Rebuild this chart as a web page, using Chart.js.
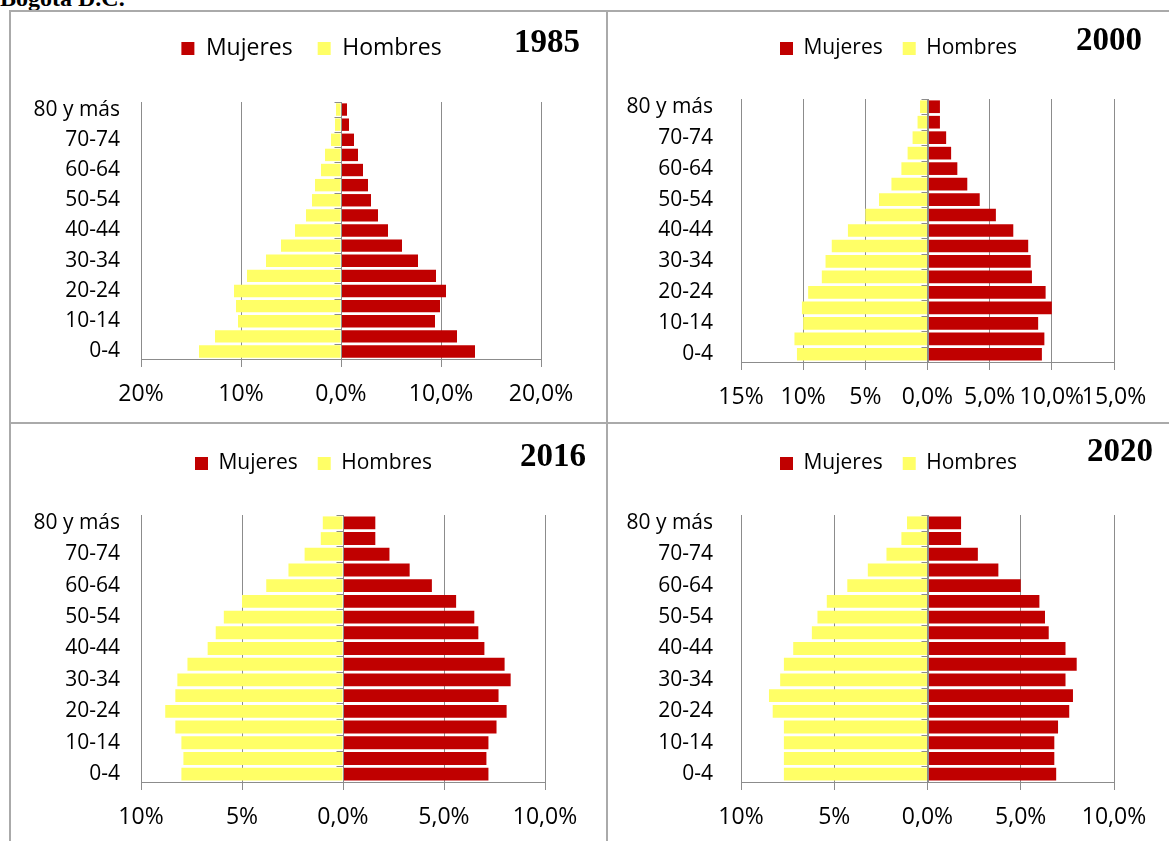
<!DOCTYPE html>
<html lang="es">
<head>
<meta charset="UTF-8">
<title>Pirámides poblacionales Bogotá D.C.</title>
<script src="https://cdn.jsdelivr.net/npm/chart.js@4.4.0/dist/chart.umd.min.js"></script>
<style>
    body {
        margin: 0;
        width: 1169px;
        height: 841px;
        position: relative;
        overflow: hidden;
        background: #fff;
        font-family: "Open Sans", sans-serif;
    }
    #title {
        position: absolute;
        left: 0;
        top: -14px;
        font: bold 24px/24px "Liberation Serif", serif;
        color: #000;
        white-space: nowrap;
    }
    .line { position: absolute; background: #aaaaaa; }
    .panel { position: absolute; }
    .year {
        position: absolute;
        font: bold 33px/33px "Liberation Serif", serif;
        color: #000;
        text-align: right;
    }
</style>
</head>
<body>
<div id="title">Bogotá D.C.</div>

<div class="line" style="left:9px; top:10px; width:1160px; height:2px;"></div>
<div class="line" style="left:9px; top:10px; width:2px; height:831px;"></div>
<div class="line" style="left:9px; top:422px; width:1160px; height:2px;"></div>
<div class="line" style="left:606px; top:10px; width:2px; height:831px;"></div>

<div class="panel" style="left:11px; top:12px; width:595px; height:410px;"><canvas id="c1985"></canvas></div>
<div class="panel" style="left:608px; top:12px; width:561px; height:410px;"><canvas id="c2000"></canvas></div>
<div class="panel" style="left:11px; top:424px; width:595px; height:417px;"><canvas id="c2016"></canvas></div>
<div class="panel" style="left:608px; top:424px; width:561px; height:417px;"><canvas id="c2020"></canvas></div>

<div class="year" style="right:589px; top:25px;">1985</div>
<div class="year" style="right:27px; top:23px;">2000</div>
<div class="year" style="right:583px; top:439px;">2016</div>
<div class="year" style="right:16px; top:434px;">2020</div>

<script>
    // age groups, bottom to top
    const ageGroups = ['0-4', '5-9', '10-14', '15-19', '20-24', '25-29', '30-34', '35-39',
        '40-44', '45-49', '50-54', '55-59', '60-64', '65-69', '70-74', '75-79', '80 y más'];
    const seriesNames = ['Mujeres', 'Hombres'];

    // % of population per group
    const mujeres1985 = [13.4, 11.6, 9.4, 9.9, 10.5, 9.5, 7.7, 6.1, 4.7, 3.7, 3.0, 2.7, 2.2, 1.7, 1.3, 0.8, 0.6];
    const hombres1985 = [14.2, 12.6, 10.3, 10.5, 10.7, 9.4, 7.5, 6.0, 4.6, 3.5, 2.9, 2.6, 2.0, 1.6, 1.0, 0.6, 0.5];

    const mujeres2000 = [9.2, 9.4, 8.9, 10.0, 9.5, 8.4, 8.3, 8.1, 6.9, 5.5, 4.2, 3.2, 2.4, 1.9, 1.5, 1.0, 1.0];
    const hombres2000 = [10.5, 10.7, 10.0, 10.1, 9.6, 8.5, 8.2, 7.7, 6.4, 5.0, 3.9, 2.9, 2.1, 1.6, 1.2, 0.8, 0.6];

    const mujeres2016 = [7.2, 7.1, 7.2, 7.6, 8.1, 7.7, 8.3, 8.0, 7.0, 6.7, 6.5, 5.6, 4.4, 3.3, 2.3, 1.6, 1.6];
    const hombres2016 = [8.0, 7.9, 8.0, 8.3, 8.8, 8.3, 8.2, 7.7, 6.7, 6.3, 5.9, 5.0, 3.8, 2.7, 1.9, 1.1, 1.0];

    const mujeres2020 = [6.9, 6.8, 6.8, 7.0, 7.6, 7.8, 7.4, 8.0, 7.4, 6.5, 6.3, 6.0, 5.0, 3.8, 2.7, 1.8, 1.8];
    const hombres2020 = [7.7, 7.7, 7.7, 7.7, 8.3, 8.5, 7.9, 7.7, 7.2, 6.2, 5.9, 5.4, 4.3, 3.2, 2.2, 1.4, 1.1];

    // x axis tick labels, left to right
    const ticks1985 = ['20%', '10%', '0,0%', '10,0%', '20,0%'];
    const ticks2000 = ['15%', '10%', '5%', '0,0%', '5,0%', '10,0%', '15,0%'];
    const ticks2016 = ['10%', '5%', '0,0%', '5,0%', '10,0%'];
    const ticks2020 = ['10%', '5%', '0,0%', '5,0%', '10,0%'];

    const RED = '#C00000';
    const YELLOW = '#FFFF66';
    const GRID = '#8c8c8c';

    // axis line at 0 with little tick marks between age groups
    const zeroAxis = {
        id: 'zeroAxis',
        afterDatasetsDraw(chart) {
            const { ctx, scales: { x, y } } = chart;
            const x0 = Math.round(x.getPixelForValue(0)) + 0.5;
            ctx.save();
            ctx.strokeStyle = GRID;
            ctx.lineWidth = 1;
            ctx.beginPath();
            ctx.moveTo(x0, y.top);
            ctx.lineTo(x0, y.bottom);
            for (let i = 0; i <= ageGroups.length; i++) {
                const py = Math.round(y.getPixelForValue(i - 0.5)) + 0.5;
                ctx.moveTo(x0 - 7, py);
                ctx.lineTo(x0, py);
            }
            ctx.stroke();
            ctx.restore();
        }
    };

    // empty axis used only to reserve space around the plot
    function spacer(position, size) {
        return {
            type: 'linear',
            position: position,
            ticks: { display: false },
            grid: { display: false },
            border: { display: false },
            afterFit: s => {
                if (position === 'top') s.height = size; else s.width = size;
            }
        };
    }

    // box: chart area distances from the canvas edges
    // lg: legend font size, item padding, offset from top, right padding (moves its centre)
    function makeChart(id, mujeres, hombres, tickLabels, limit, step, box, lg, yPad) {
        const legendH = lg.size + lg.pad + 10;
        return new Chart(document.getElementById(id), {
            type: 'bar',
            data: {
                labels: ageGroups,
                datasets: [
                    { label: seriesNames[0], data: mujeres, backgroundColor: RED },
                    { label: seriesNames[1], data: hombres.map(v => -v), backgroundColor: YELLOW }
                ]
            },
            options: {
                indexAxis: 'y',
                responsive: true,
                maintainAspectRatio: false,
                animation: false,
                barPercentage: 0.82,
                categoryPercentage: 1,
                layout: { padding: { top: lg.top, left: 0, bottom: 0, right: lg.right } },
                plugins: {
                    legend: {
                        position: 'top',
                        labels: {
                            boxWidth: 13,
                            boxHeight: 13,
                            padding: lg.pad,
                            color: '#000',
                            font: { family: 'Open Sans', size: lg.size }
                        }
                    },
                    tooltip: { enabled: false }
                },
                scales: {
                    x: {
                        stacked: true,
                        min: -limit,
                        max: limit,
                        ticks: {
                            stepSize: step,
                            autoSkip: false,
                            maxRotation: 0,
                            padding: 14,
                            color: '#000',
                            font: { family: 'Open Sans', size: 23 },
                            callback: (v, i) => tickLabels[i]
                        },
                        grid: { color: GRID, tickLength: 8 },
                        border: { color: GRID },
                        afterFit: s => { s.height = box.bottom; }
                    },
                    gap: spacer('top', box.top - lg.top - legendH),
                    y: {
                        stacked: true,
                        reverse: true,
                        grid: { display: false },
                        border: { display: false },
                        ticks: {
                            autoSkip: false,
                            padding: yPad,
                            color: '#000',
                            font: { family: 'Open Sans', size: 21 },
                            callback: (v, i) => (i % 2 === 0 ? ageGroups[i] : '')
                        },
                        afterFit: s => { s.width = box.left; }
                    },
                    gapR: spacer('right', box.right - lg.right)
                }
            },
            plugins: [zeroAxis]
        });
    }

    makeChart('c1985', mujeres1985, hombres1985, ticks1985, 20, 10,
        { left: 130, right: 65, top: 90, bottom: 63 }, { size: 23, pad: 25, top: 0, right: -6 }, 13);
    makeChart('c2000', mujeres2000, hombres2000, ticks2000, 15, 5,
        { left: 133, right: 55, top: 87, bottom: 60 }, { size: 21, pad: 20, top: 6, right: -20 }, 20);
    makeChart('c2016', mujeres2016, hombres2016, ticks2016, 10, 5,
        { left: 130, right: 61, top: 91, bottom: 59 }, { size: 21, pad: 20, top: 9, right: -10 }, 13);
    makeChart('c2020', mujeres2020, hombres2020, ticks2020, 10, 5,
        { left: 133, right: 55, top: 91, bottom: 59 }, { size: 21, pad: 20, top: 9, right: -20 }, 20);
</script>
</body>
</html>
